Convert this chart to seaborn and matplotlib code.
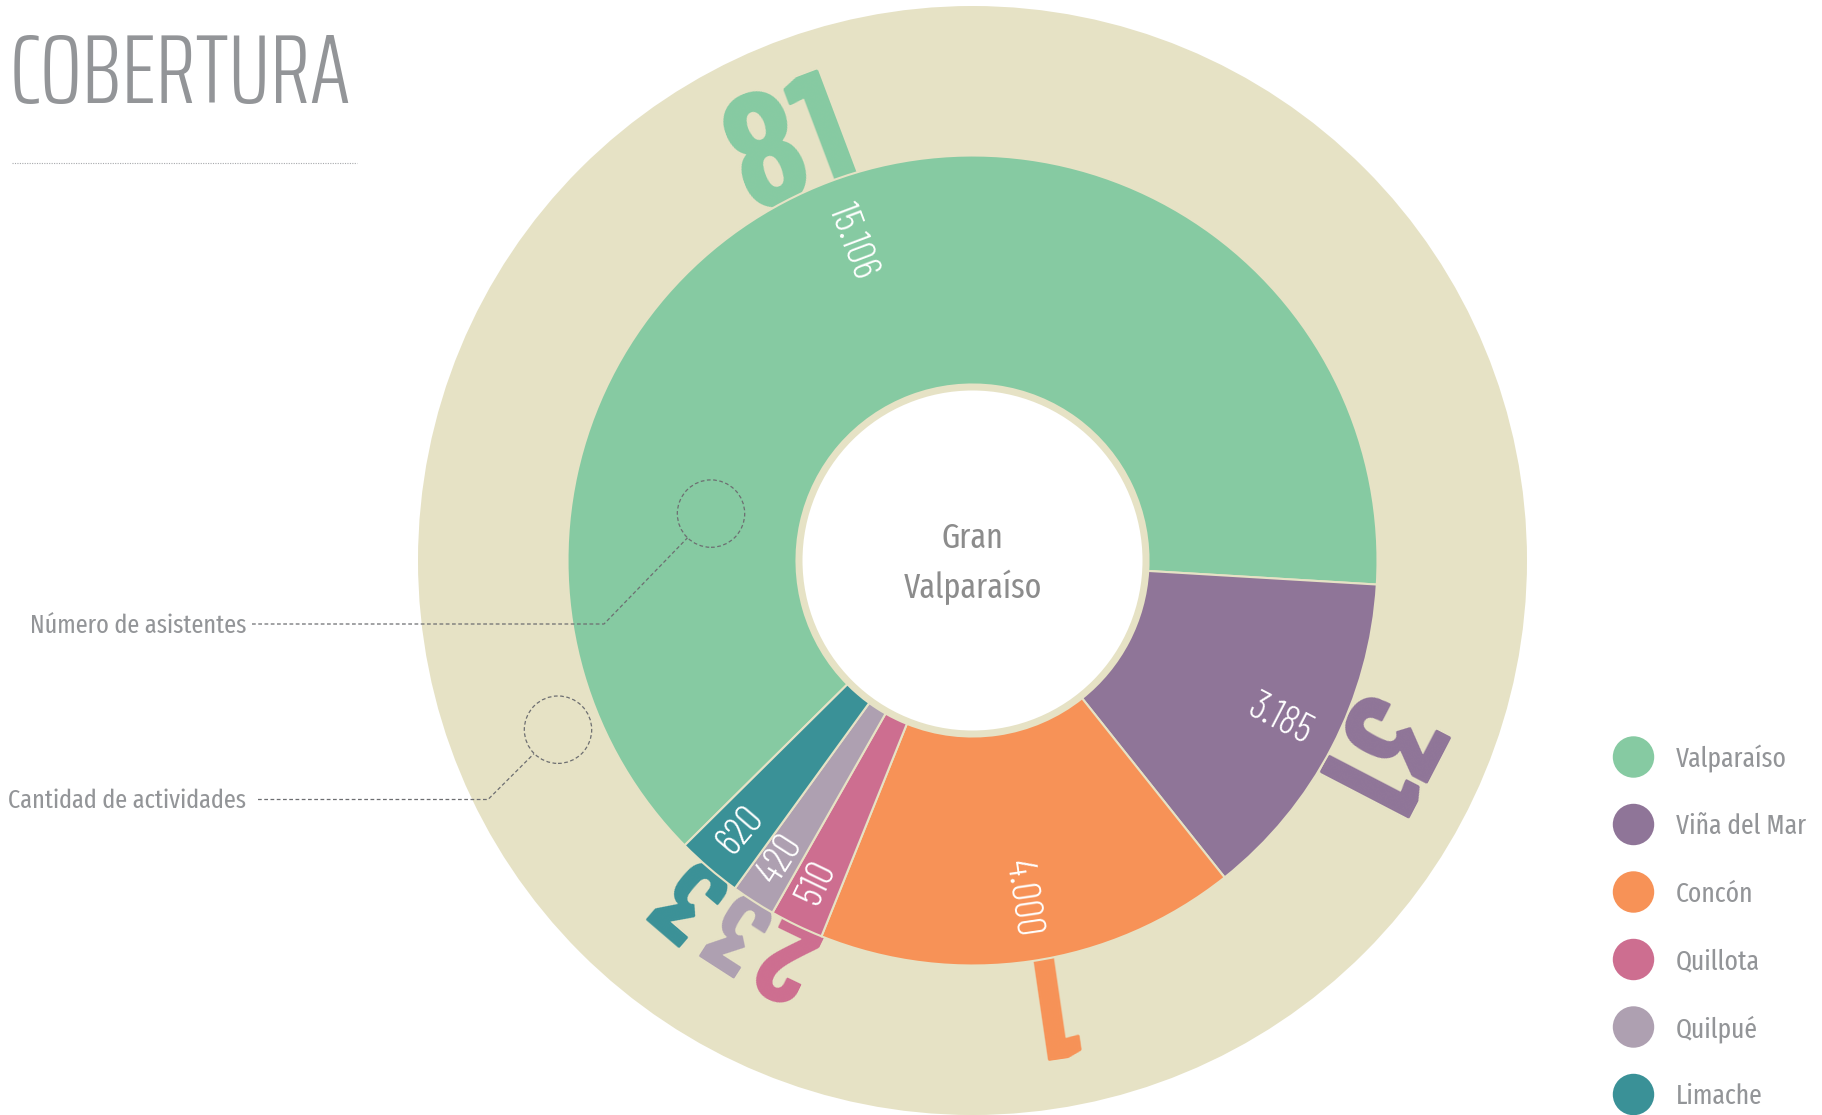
import os
import numpy as np
import pandas as pd
import matplotlib
matplotlib.use("Agg")
import matplotlib.pyplot as plt
import seaborn as sns
from matplotlib import font_manager as fm
from matplotlib.font_manager import FontProperties
from matplotlib.patches import Circle

# ---------------- data ----------------
comunas = ["Valparaíso", "Viña del Mar", "Concón", "Quillota", "Quilpué", "Limache"]
asistentes = [15106, 3185, 4000, 510, 420, 620]
actividades = [81, 31, 1, 2, 3, 3]
colores = ["#86CAA2", "#8F7598", "#F79257", "#CD6E90", "#AEA0B1", "#3A9197"]
titulo = "COBERTURA"
centro = ["Gran", "Valparaíso"]
notas = ["Número de asistentes", "Cantidad de actividades"]

BEIGE = "#E6E2C5"
GRIS = "#939598"
GRIS_LINEA = "#6D6E71"

sns.set_theme(style="white")
plt.rcParams["font.family"] = ["DejaVu Sans"]

# ---------------- fonts ----------------
BYFILE = {os.path.basename(f.fname).lower(): f.fname for f in fm.fontManager.ttflist}

def font_file(names, weight="normal"):
    for n in names:
        p = BYFILE.get(n.lower())
        if p:
            return FontProperties(fname=p)
    return FontProperties(family="DejaVu Sans", stretch="condensed", weight=weight)

F_NUM = font_file(["BarlowCondensed-Bold.ttf", "BarlowCondensed-SemiBold.ttf",
                   "RobotoCondensed-Bold.ttf"], "bold")
F_VAL = font_file(["BarlowCondensed-Light.ttf", "RobotoCondensed-Light.ttf"], "light")
F_TIT = font_file(["SairaExtraCondensed-Light.ttf", "BarlowCondensed-Light.ttf",
                   "RobotoCondensed-Light.ttf"], "light")
F_TXT = font_file(["FiraSansExtraCondensed-Regular.ttf", "PT_Sans-Narrow-Web-Regular.ttf",
                   "RobotoCondensed-Regular.ttf"])

def fp(base, size):
    p = base.copy()
    p.set_size(size)
    return p

# ---------------- figure ----------------
W, H = 1822, 1115
fig = plt.figure(figsize=(W / 100, H / 100), dpi=100)
ax = fig.add_axes([0, 0, 1, 1])

cx, cy = 972.5, H - 560.5
R_BG, R_OUT, R_IN, R_HOLE = 554.5, 405, 176, 170

ax.add_patch(Circle((cx, cy), R_BG, fc=BEIGE, ec="none", zorder=0))

pal = sns.color_palette(colores)
wedges, _ = ax.pie(asistentes, colors=pal, radius=R_OUT, center=(cx, cy),
                   startangle=-135.3, counterclock=False, frame=True,
                   wedgeprops=dict(width=R_OUT - R_IN, edgecolor=BEIGE, linewidth=1.5))
for w in wedges:
    w.set_zorder(2)
ax.add_patch(Circle((cx, cy), R_HOLE, fc="white", ec="none", zorder=3))

def fmt(v):
    return f"{v:,}".replace(",", ".")

vmin = min(asistentes)
for w, n, v, c in zip(wedges, actividades, asistentes, colores):
    mid = 0.5 * (w.theta1 + w.theta2)
    mid = ((mid + 180) % 360) - 180
    m = np.deg2rad(mid)
    # number of activities: glyph size grows with the wedge, baseline on the rim
    cap_px = 80 + 10 * np.log(v / vmin)
    size_pt = cap_px / 0.7 * 0.72
    rot_n = mid - 90
    shift = 0.7 * (cap_px - 80)          # pull larger labels back along the baseline
    r = 401
    x0 = cx + r * np.cos(m) - shift * np.cos(np.deg2rad(rot_n))
    y0 = cy + r * np.sin(m) - shift * np.sin(np.deg2rad(rot_n))
    ax.text(x0, y0, str(n), rotation=rot_n,
            rotation_mode="anchor", ha="center", va="baseline", color=c,
            fontproperties=fp(F_NUM, size_pt), zorder=1.5)
    # number of attendees, inside the ring
    r2 = 380
    if -90 <= mid <= 90:
        rot, ha = mid, "right"
    else:
        rot, ha = mid + 180, "left"
    ax.text(cx + r2 * np.cos(m), cy + r2 * np.sin(m), fmt(v), rotation=rot,
            rotation_mode="anchor", ha=ha, va="center", color="white",
            fontproperties=fp(F_VAL, 29), zorder=4)

# centre text
ax.text(cx, H - 548.5, centro[0], ha="center", va="baseline", color="#8C8C8C",
        fontproperties=fp(F_TXT, 25), zorder=5)
ax.text(cx, H - 598, centro[1], ha="center", va="baseline", color="#8C8C8C",
        fontproperties=fp(F_TXT, 25), zorder=5)

# title
ax.text(10, H - 103, titulo, ha="left", va="baseline", color=GRIS,
        fontproperties=fp(F_TIT, 71), zorder=5)
ax.plot([12, 357], [H - 163, H - 163], color="#A7A9AC", lw=0.8,
        linestyle=(0, (1, 1.2)), zorder=5)

# annotation callouts
ax.text(246, H - 633, notas[0], ha="right", va="baseline", color=GRIS,
        fontproperties=fp(F_TXT, 19), zorder=5)
ax.plot([252, 604, 687.5], [H - 624, H - 624, H - 537.8], color=GRIS_LINEA,
        lw=0.9, linestyle=(0, (3, 2)), zorder=5)
ax.add_patch(Circle((711, H - 513.6), 33.7, fill=False, ec=GRIS_LINEA, lw=0.9,
                    linestyle=(0, (3, 2)), zorder=5))

ax.text(246, H - 808.5, notas[1], ha="right", va="baseline", color=GRIS,
        fontproperties=fp(F_TXT, 19), zorder=5)
ax.plot([258, 488, 534], [H - 799.5, H - 799.5, H - 753.6], color=GRIS_LINEA,
        lw=0.9, linestyle=(0, (3, 2)), zorder=5)
ax.add_patch(Circle((558, H - 729.7), 33.7, fill=False, ec=GRIS_LINEA, lw=0.9,
                    linestyle=(0, (3, 2)), zorder=5))

# legend
leg = pd.DataFrame({
    "comuna": comunas,
    "x": [1633.5] * len(comunas),
    "y": [H - (757 + 67.5 * i) for i in range(len(comunas))],
})
sns.scatterplot(data=leg, x="x", y="y", hue="comuna", palette=colores,
                hue_order=comunas, s=890, linewidth=0, legend=False, ax=ax, zorder=5)
for i, row in leg.iterrows():
    ax.text(1676, row["y"] - 10, row["comuna"], ha="left", va="baseline",
            color=GRIS, fontproperties=fp(F_TXT, 20), zorder=5)

ax.set_xlim(0, W)
ax.set_ylim(0, H)
ax.set_aspect("auto")
ax.axis("off")
fig.savefig("out.png", dpi=100, facecolor="white")
